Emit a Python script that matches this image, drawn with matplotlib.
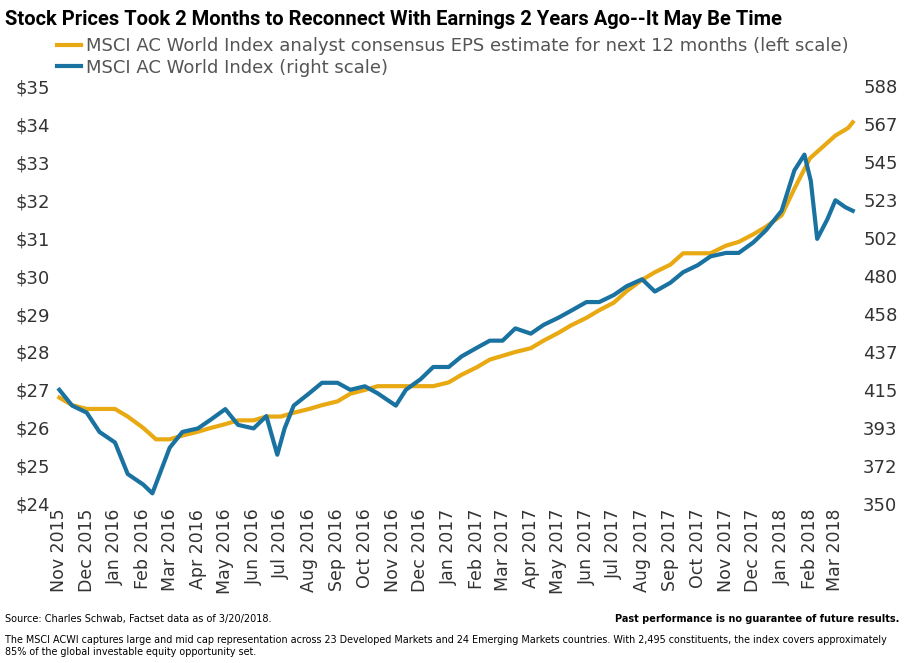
import pandas as pd
import matplotlib.pyplot as plt

# EPS estimate, semi-monthly (left scale, $)
eps_dates = pd.date_range("2015-11-01", "2018-03-15", freq="SMS").tolist() + [pd.Timestamp("2018-03-20")]
eps_values = [26.8, 26.6, 26.5, 26.5, 26.5, 26.3, 26.0, 25.7, 25.7, 25.8,
              25.9, 26.0, 26.1, 26.2, 26.2, 26.3, 26.3, 26.4, 26.5, 26.6,
              26.7, 26.9, 27.0, 27.1, 27.1, 27.1, 27.1, 27.1, 27.2, 27.4,
              27.6, 27.8, 27.9, 28.0, 28.1, 28.3, 28.5, 28.7, 28.9, 29.1,
              29.3, 29.6, 29.9, 30.1, 30.3, 30.6, 30.6, 30.6, 30.8, 30.9,
              31.1, 31.3, 31.6, 32.3, 33.1, 33.4, 33.7, 33.9, 34.05]

# MSCI ACWI index level (right scale)
idx_dates = pd.to_datetime([
    "2015-11-01", "2015-11-15", "2015-12-01", "2015-12-15", "2016-01-01", "2016-01-15",
    "2016-02-01", "2016-02-11", "2016-03-01", "2016-03-15", "2016-04-01", "2016-04-15",
    "2016-05-01", "2016-05-15", "2016-06-01", "2016-06-15", "2016-06-27", "2016-07-05",
    "2016-07-15", "2016-08-01", "2016-08-15", "2016-09-01", "2016-09-15", "2016-10-01",
    "2016-10-15", "2016-11-04", "2016-11-15", "2016-12-01", "2016-12-15", "2017-01-01",
    "2017-01-15", "2017-02-01", "2017-02-15", "2017-03-01", "2017-03-15", "2017-04-01",
    "2017-04-15", "2017-05-01", "2017-05-15", "2017-06-01", "2017-06-15", "2017-07-01",
    "2017-07-15", "2017-08-01", "2017-08-15", "2017-09-01", "2017-09-15", "2017-10-01",
    "2017-10-15", "2017-11-01", "2017-11-15", "2017-12-01", "2017-12-15", "2018-01-01",
    "2018-01-15", "2018-01-26", "2018-02-02", "2018-02-09", "2018-02-20", "2018-03-01",
    "2018-03-12", "2018-03-20"])
idx_values = [415, 406, 402, 391, 385, 367, 361, 356, 382, 391, 393, 398,
              404, 395, 393, 400, 378, 393, 406, 413, 419, 419, 415, 417,
              413, 406, 415, 421, 428, 428, 434, 439, 443, 443, 450, 447,
              452, 456, 460, 465, 465, 469, 474, 478, 471, 476, 482, 486,
              491, 493, 493, 499, 506, 517, 540, 549, 534, 501, 512, 523,
              519, 517]

left_ticks = list(range(24, 36))
right_ticks = [350, 372, 393, 415, 437, 458, 480, 502, 523, 545, 567, 588]

gold = "#E8A912"
blue = "#1A72A0"

fig = plt.figure(figsize=(9.13, 6.63), dpi=100)
ax = fig.add_axes([0.06, 0.24, 0.88, 0.63])
ax2 = ax.twinx()

l1, = ax.plot(eps_dates, eps_values, color=gold, lw=3)
l2, = ax2.plot(idx_dates, idx_values, color=blue, lw=3)

ax.set_ylim(24, 35)
ax2.set_ylim(350, 588)
ax.set_yticks(left_ticks)
ax.set_yticklabels([f"${t}" for t in left_ticks])
ax2.set_yticks([350 + (t - 24) * (588 - 350) / 11 for t in left_ticks])
ax2.set_yticklabels([str(t) for t in right_ticks])

months = pd.date_range("2015-11-01", "2018-03-01", freq="MS")
ax.set_xticks(months)
ax.set_xticklabels([m.strftime("%b %Y") for m in months], rotation=90)
ax.set_xlim(pd.Timestamp("2015-10-27"), pd.Timestamp("2018-03-26"))

for a in (ax, ax2):
    for s in a.spines.values():
        s.set_visible(False)
    a.tick_params(length=0, labelsize=13, colors="#333333")
ax.tick_params(axis="x", labelsize=12.5)

fig.text(0.005, 0.97, "Stock Prices Took 2 Months to Reconnect With Earnings 2 Years Ago--It May Be Time",
         fontsize=14.5, fontweight="bold", va="center", family="Roboto")
fig.legend([l1, l2], ["MSCI AC World Index analyst consensus EPS estimate for next 12 months (left scale)",
                      "MSCI AC World Index (right scale)"],
           loc="upper left", bbox_to_anchor=(0.055, 0.955), frameon=False, fontsize=13,
           labelcolor="#555555", handlelength=1.3, handletextpad=0.3, borderaxespad=0, labelspacing=0.2)

fig.text(0.005, 0.062, "Source: Charles Schwab, Factset data as of 3/20/2018.", fontsize=7)
fig.text(0.985, 0.062, "Past performance is no guarantee of future results.", fontsize=7,
         fontweight="bold", ha="right")
fig.text(0.005, 0.012, "The MSCI ACWI captures large and mid cap representation across 23 Developed Markets and 24 Emerging Markets countries. "
         "With 2,495 constituents, the index covers approximately\n85% of the global investable equity opportunity set.",
         fontsize=6.9, linespacing=1.3, family="Liberation Sans Narrow")

fig.savefig("out.png")
